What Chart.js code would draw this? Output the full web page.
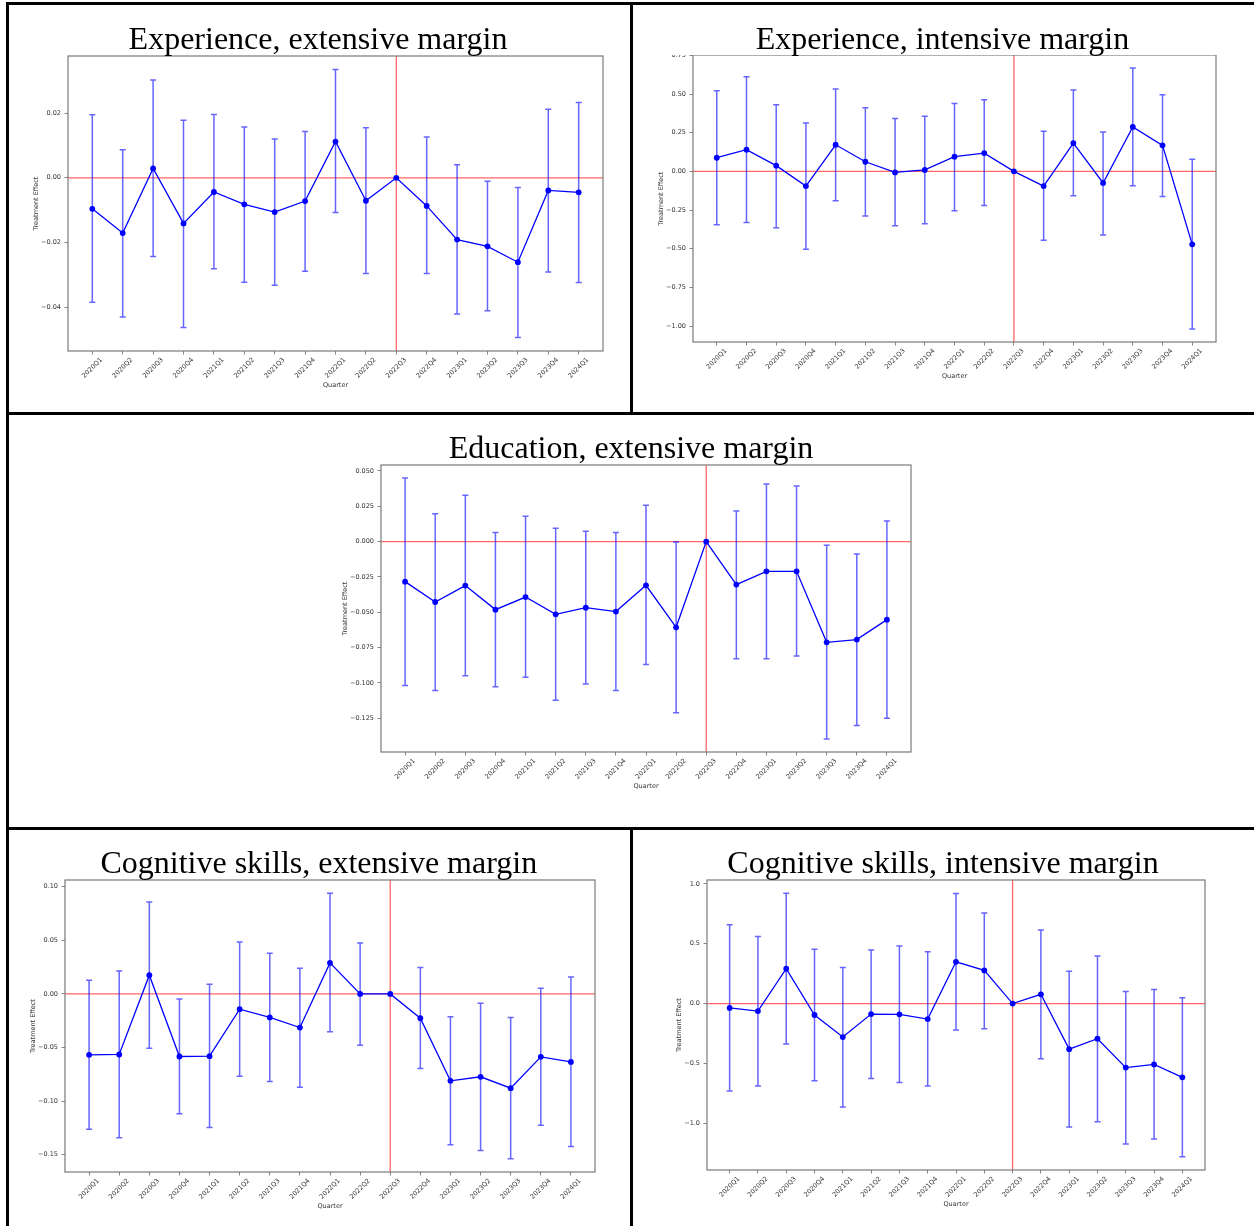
<!DOCTYPE html>
<html>
<head>
<meta charset="utf-8">
<title>Treatment effects by quarter</title>
<script src="https://cdn.jsdelivr.net/npm/chart.js@4.4.1/dist/chart.umd.min.js"></script>
<style>
    html, body { margin: 0; padding: 0; background: #fff; }
    body { width: 1254px; height: 1226px; position: relative; overflow: hidden; }
    .rule { position: absolute; background: #000; z-index: 3; }
    .title {
        position: absolute; width: 600px; height: 33px;
        font-family: "Liberation Serif", "Times New Roman", serif;
        font-size: 32px; line-height: 32px; text-align: center;
        color: #000; white-space: nowrap; z-index: 2;
    }
    .panel { position: absolute; z-index: 1; }
</style>
</head>
<body>

<div class="rule" style="left:6px; top:2px; width:1248px; height:3px;"></div>
<div class="rule" style="left:6px; top:2px; width:3px; height:1224px;"></div>
<div class="rule" style="left:630px; top:2px; width:3px; height:413px;"></div>
<div class="rule" style="left:6px; top:412px; width:1248px; height:3px;"></div>
<div class="rule" style="left:6px; top:827px; width:1248px; height:3px;"></div>
<div class="rule" style="left:630px; top:827px; width:3px; height:399px;"></div>

<script>
// quarters on the x axis, 2022Q3 is the reference period
const quarters = ['2020Q1', '2020Q2', '2020Q3', '2020Q4', '2021Q1', '2021Q2', '2021Q3', '2021Q4',
    '2022Q1', '2022Q2', '2022Q3', '2022Q4', '2023Q1', '2023Q2', '2023Q3', '2023Q4', '2024Q1'];
const refQuarter = '2022Q3';

// Experience, extensive margin
const expExtEst = [-0.0096, -0.0171, 0.0029, -0.0141, -0.0044, -0.0082, -0.0106, -0.0072, 0.0112, -0.0071, 0, -0.0087, -0.0191, -0.0212, -0.0261, -0.0039, -0.0045];
const expExtLo = [-0.0385, -0.0430, -0.0243, -0.0463, -0.0281, -0.0323, -0.0332, -0.0289, -0.0107, -0.0296, 0, -0.0296, -0.0421, -0.0411, -0.0494, -0.0291, -0.0324];
const expExtHi = [0.0195, 0.0087, 0.0302, 0.0178, 0.0196, 0.0157, 0.0120, 0.0143, 0.0335, 0.0155, 0, 0.0126, 0.0040, -0.0011, -0.0030, 0.0212, 0.0233];

// Experience, intensive margin
const expIntEst = [0.088, 0.140, 0.037, -0.095, 0.172, 0.062, -0.007, 0.009, 0.095, 0.118, 0, -0.095, 0.183, -0.075, 0.287, 0.168, -0.472];
const expIntLo = [-0.345, -0.330, -0.364, -0.504, -0.190, -0.289, -0.351, -0.338, -0.254, -0.220, 0, -0.446, -0.157, -0.412, -0.093, -0.162, -1.019];
const expIntHi = [0.522, 0.612, 0.431, 0.313, 0.532, 0.412, 0.341, 0.356, 0.438, 0.463, 0, 0.259, 0.526, 0.254, 0.668, 0.496, 0.078];

// Education, extensive margin
const eduExtEst = [-0.0283, -0.0427, -0.0311, -0.0481, -0.0392, -0.0514, -0.0467, -0.0495, -0.0309, -0.0606, 0, -0.0304, -0.0210, -0.0210, -0.0712, -0.0693, -0.0552];
const eduExtLo = [-0.1017, -0.1054, -0.0948, -0.1026, -0.0960, -0.1123, -0.1007, -0.1054, -0.0870, -0.1210, 0, -0.0828, -0.0828, -0.0809, -0.1396, -0.1300, -0.1250];
const eduExtHi = [0.0450, 0.0198, 0.0328, 0.0064, 0.0179, 0.0094, 0.0073, 0.0064, 0.0257, -0.0002, 0, 0.0217, 0.0408, 0.0394, -0.0026, -0.0087, 0.0146];

// Cognitive skills, extensive margin
const cogExtEst = [-0.0568, -0.0565, 0.0174, -0.0584, -0.0581, -0.0143, -0.0220, -0.0314, 0.0289, 0.0000, 0, -0.0227, -0.0811, -0.0773, -0.0879, -0.0587, -0.0634];
const cogExtLo = [-0.1261, -0.1342, -0.0506, -0.1118, -0.1245, -0.0767, -0.0817, -0.0870, -0.0354, -0.0478, 0, -0.0696, -0.1407, -0.1460, -0.1537, -0.1224, -0.1422];
const cogExtHi = [0.0127, 0.0214, 0.0857, -0.0047, 0.0090, 0.0484, 0.0379, 0.0239, 0.0938, 0.0475, 0, 0.0245, -0.0214, -0.0087, -0.0221, 0.0053, 0.0158];

// Cognitive skills, intensive margin
const cogIntEst = [-0.036, -0.062, 0.291, -0.095, -0.279, -0.087, -0.089, -0.129, 0.349, 0.277, 0, 0.078, -0.380, -0.293, -0.534, -0.508, -0.615];
const cogIntLo = [-0.729, -0.687, -0.338, -0.643, -0.863, -0.626, -0.659, -0.687, -0.221, -0.210, 0, -0.461, -1.031, -0.986, -1.173, -1.131, -1.279];
const cogIntHi = [0.659, 0.561, 0.922, 0.453, 0.302, 0.447, 0.480, 0.433, 0.919, 0.757, 0, 0.615, 0.271, 0.397, 0.101, 0.117, 0.048];

const TICK_FONT = '6.5px "DejaVu Sans"';
const TEXT_COLOR = '#333';
const MARGIN = { left: 64, top: 10, right: 10, bottom: 50 };

// frame = plot box in page pixels
const panels = [
    { title: 'Experience, extensive margin', titleX: 318, titleTop: 21.5,
      est: expExtEst, lo: expExtLo, hi: expExtHi, step: 0.02, digits: 2,
      frame: { l: 68, t: 56, r: 603, b: 351 } },
    { title: 'Experience, intensive margin', titleX: 942.5, titleTop: 21.5, mask: true,
      est: expIntEst, lo: expIntLo, hi: expIntHi, step: 0.25, digits: 2,
      frame: { l: 693, t: 55, r: 1216, b: 342 } },
    { title: 'Education, extensive margin', titleX: 631, titleTop: 431,
      est: eduExtEst, lo: eduExtLo, hi: eduExtHi, step: 0.025, digits: 3,
      frame: { l: 381, t: 465, r: 911, b: 752 } },
    { title: 'Cognitive skills, extensive margin', titleX: 318.8, titleTop: 846,
      est: cogExtEst, lo: cogExtLo, hi: cogExtHi, step: 0.05, digits: 2,
      frame: { l: 65, t: 880, r: 595, b: 1172 } },
    { title: 'Cognitive skills, intensive margin', titleX: 943, titleTop: 846,
      est: cogIntEst, lo: cogIntLo, hi: cogIntHi, step: 0.5, digits: 1,
      frame: { l: 707, t: 880, r: 1205, b: 1170 } }
];

function fmtTick(v, digits) {
    if (Math.abs(v) < 1e-12) v = 0;
    return v.toFixed(digits).replace('-', '\u2212');
}

function decorPlugin(p) {
    const refIdx = quarters.indexOf(refQuarter);
    return {
        id: 'decor',
        beforeDatasetsDraw(chart) {
            const { ctx, chartArea: a, scales: { x, y } } = chart;
            ctx.save();
            // reference lines
            ctx.strokeStyle = 'rgba(255, 0, 0, 0.6)';
            ctx.lineWidth = 1.3;
            const y0 = y.getPixelForValue(0);
            const xr = x.getPixelForValue(refIdx);
            ctx.beginPath();
            ctx.moveTo(a.left, y0); ctx.lineTo(a.right, y0);
            ctx.moveTo(xr, a.top); ctx.lineTo(xr, a.bottom);
            ctx.stroke();

            // confidence intervals
            ctx.strokeStyle = 'rgba(20, 20, 255, 0.65)';
            ctx.lineWidth = 1.5;
            p.est.forEach((v, i) => {
                if (p.hi[i] === p.lo[i]) return;
                const px = x.getPixelForValue(i);
                const top = y.getPixelForValue(p.hi[i]);
                const bot = y.getPixelForValue(p.lo[i]);
                ctx.beginPath();
                ctx.moveTo(px, top); ctx.lineTo(px, bot);
                ctx.moveTo(px - 3, top); ctx.lineTo(px + 3, top);
                ctx.moveTo(px - 3, bot); ctx.lineTo(px + 3, bot);
                ctx.stroke();
            });
            ctx.restore();
        },
        afterDraw(chart) {
            const { ctx, chartArea: a, scales: { x, y } } = chart;
            ctx.save();
            ctx.strokeStyle = '#7a7a7a';
            ctx.lineWidth = 1.2;
            ctx.strokeRect(a.left, a.top, a.right - a.left, a.bottom - a.top);

            ctx.font = TICK_FONT;
            ctx.fillStyle = TEXT_COLOR;
            ctx.textAlign = 'center';
            ctx.textBaseline = 'middle';

            // rotated quarter labels, centred under each tick
            quarters.forEach((q, i) => {
                const w = ctx.measureText(q).width;
                const ext = (w + 6.5 * 0.8) * Math.SQRT1_2;
                ctx.save();
                ctx.translate(x.getPixelForValue(i), a.bottom + 6 + ext / 2);
                ctx.rotate(-Math.PI / 4);
                ctx.fillText(q, 0, 0);
                ctx.restore();
            });

            ctx.fillText('Quarter', (a.left + a.right) / 2, a.bottom + 34);

            const maxW = Math.max(...y.ticks.map(t => ctx.measureText(fmtTick(t.value, p.digits)).width));
            ctx.save();
            ctx.translate(a.left - 7 - maxW - 4.5, (a.top + a.bottom) / 2);
            ctx.rotate(-Math.PI / 2);
            ctx.fillText('Treatment Effect', 0, 0);
            ctx.restore();
            ctx.restore();
        }
    };
}

function buildPanel(p) {
    const f = p.frame;
    const w = f.r - f.l + MARGIN.left + MARGIN.right;
    const h = f.b - f.t + MARGIN.top + MARGIN.bottom;

    const box = document.createElement('div');
    box.className = 'panel';
    box.style.left = (f.l - MARGIN.left) + 'px';
    box.style.top = (f.t - MARGIN.top) + 'px';
    box.style.width = w + 'px';
    box.style.height = h + 'px';
    const canvas = document.createElement('canvas');
    canvas.width = w;
    canvas.height = h;
    box.appendChild(canvas);
    document.body.appendChild(box);

    const title = document.createElement('div');
    title.className = 'title';
    title.textContent = p.title;
    title.style.left = (p.titleX - 300) + 'px';
    title.style.top = p.titleTop + 'px';
    if (p.mask) title.style.background = '#fff';
    document.body.appendChild(title);

    // matplotlib-style 5% margins around the intervals
    const lo = Math.min(...p.lo);
    const hi = Math.max(...p.hi);
    const pad = (hi - lo) * 0.05;

    new Chart(canvas, {
        type: 'line',
        data: {
            datasets: [{
                data: p.est.map((v, i) => ({ x: i, y: v })),
                borderColor: '#0000ff',
                backgroundColor: '#0000ff',
                borderWidth: 1.3,
                pointRadius: 2.9,
                pointBorderWidth: 0,
                pointHoverRadius: 2.9,
                tension: 0,
                fill: false
            }]
        },
        options: {
            responsive: false,
            animation: false,
            events: [],
            // the y scale box takes the whole left margin so its labels are not clipped
            layout: { padding: { left: 0, top: MARGIN.top, right: MARGIN.right, bottom: MARGIN.bottom } },
            plugins: { legend: { display: false }, tooltip: { enabled: false } },
            scales: {
                x: {
                    type: 'linear',
                    min: -0.8,
                    max: quarters.length - 0.2,
                    afterFit: s => { s.height = 0; },
                    ticks: { display: false, stepSize: 1, includeBounds: false, maxTicksLimit: 100 },
                    grid: { drawOnChartArea: false, drawTicks: true, tickLength: 3.5, color: '#666', lineWidth: 0.8 },
                    border: { display: false }
                },
                y: {
                    min: lo - pad,
                    max: hi + pad,
                    afterFit: s => { s.width = MARGIN.left; },
                    ticks: {
                        stepSize: p.step,
                        includeBounds: false,
                        maxTicksLimit: 100,
                        padding: 3.5,
                        color: TEXT_COLOR,
                        font: { family: 'DejaVu Sans', size: 6.5 },
                        callback: v => fmtTick(v, p.digits)
                    },
                    grid: { drawOnChartArea: false, drawTicks: true, tickLength: 3.5, color: '#666', lineWidth: 0.8 },
                    border: { display: false }
                }
            }
        },
        plugins: [decorPlugin(p)]
    });
}

panels.forEach(buildPanel);
</script>
</body>
</html>
